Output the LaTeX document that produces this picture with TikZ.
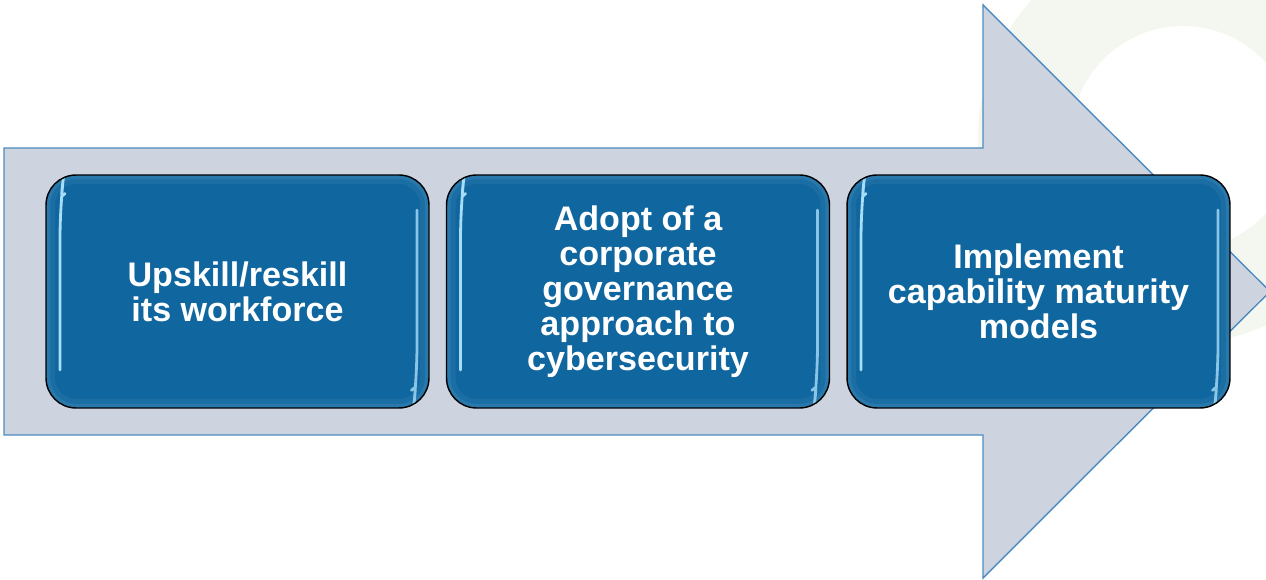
\documentclass[tikz,border=0pt]{standalone}
\usepackage{fontspec}
\setmainfont{Liberation Sans}
\usetikzlibrary{calc}
\definecolor{boxblue}{HTML}{10669E}
\definecolor{edgeblue}{HTML}{6AAAD2}
\definecolor{arrowfill}{HTML}{CDD4E0}
\definecolor{arrowline}{HTML}{4C8BC0}
\definecolor{glossblue}{HTML}{A6DDF8}
\definecolor{ringgreen}{HTML}{F3F7F0}
\tikzstyle{gloss}=[glossblue,line width=1.6pt,line cap=round]
\tikzstyle{stepbox}=[rectangle,rounded corners=0.6cm,draw=black,line width=0.8pt,fill=boxblue,
  text=white,align=center,font=\bfseries\fontsize{19.4pt}{19.9pt}\selectfont,
  minimum width=7.66cm,minimum height=4.66cm,
  path picture={
    \draw[edgeblue,opacity=0.12,line width=0.36cm,rounded corners=0.6cm]
      (path picture bounding box.south west) rectangle (path picture bounding box.north east);
    \draw[edgeblue,opacity=0.18,line width=0.16cm,rounded corners=0.6cm]
      (path picture bounding box.south west) rectangle (path picture bounding box.north east);
    \draw[gloss] ([xshift=0.38cm,yshift=-0.37cm]path picture bounding box.north west)
      .. controls ([xshift=0.3cm,yshift=-0.45cm]path picture bounding box.north west)
      .. ([xshift=0.28cm,yshift=-0.62cm]path picture bounding box.north west)
      -- ([xshift=0.28cm,yshift=0.76cm]path picture bounding box.south west);
    \draw[gloss,opacity=0.8] ([xshift=-0.24cm,yshift=-0.7cm]path picture bounding box.north east)
      -- ([xshift=-0.24cm,yshift=0.62cm]path picture bounding box.south east)
      .. controls ([xshift=-0.26cm,yshift=0.44cm]path picture bounding box.south east)
      .. ([xshift=-0.35cm,yshift=0.35cm]path picture bounding box.south east);
  }]

\begin{document}
\begin{tikzpicture}[x=0.02cm,y=-0.02cm]
	\useasboundingbox (0,0) rectangle (1266,580);
	\clip (0,0) rectangle (1266,580);
	
	% faint ring behind the arrow
	\fill[ringgreen,even odd rule] (1183,138) circle[radius=4.1cm] (1183,138) circle[radius=2.24cm];
	
	% big arrow
	\filldraw[fill=arrowfill,draw=arrowline,line width=0.8pt]
		(4,148) -- (983,148) -- (983,5) -- (1270,291.5) -- (983,578) -- (983,435) -- (4,435) -- cycle;
	
	\node[stepbox] (upskill) at (237.5,291.5) {Upskill/reskill\\its workforce};
	\node[stepbox] (adopt) at (638,291.5) {Adopt of a\\corporate\\governance\\approach to\\cybersecurity};
	\node[stepbox] (implement) at (1038.5,291.5) {Implement\\capability maturity\\models};
\end{tikzpicture}
\end{document}
